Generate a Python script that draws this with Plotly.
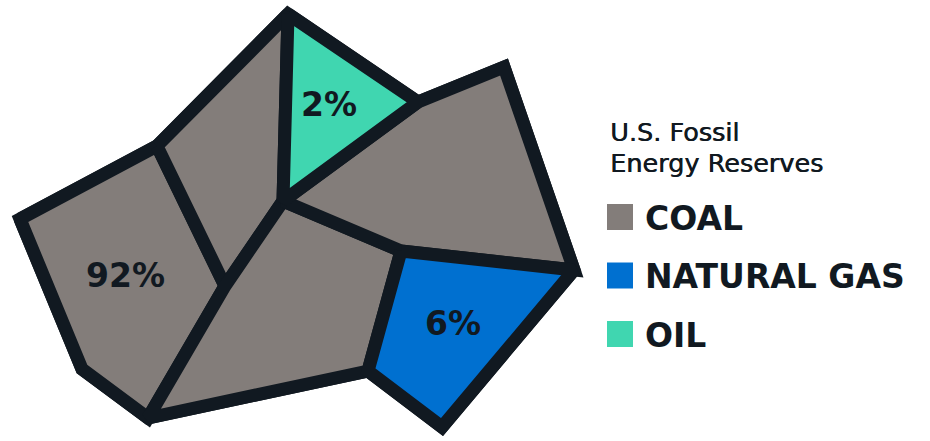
import math
import plotly.graph_objects as go

# Categories and values
categories = ["COAL", "NATURAL GAS", "OIL"]
shares = [92, 6, 2]
colors = ["#837d7a", "#0070d0", "#40d6b0"]
outline = "#111921"
title_lines = ["U.S. Fossil", "Energy Reserves"]

# Voronoi-style cells (vertex coordinates of stylized layout), category of each cell
cell_category = ["COAL", "COAL", "COAL", "COAL", "NATURAL GAS", "OIL"]
cell_x = [
    [20, 157, 225, 148, 82],
    [157, 288, 283, 225],
    [283, 401, 368, 148, 225],
    [418, 504, 574, 401, 283],
    [401, 574, 442, 368],
    [288, 418, 283],
]
cell_y = [
    [219, 146, 286, 418, 369],
    [146, 14, 201, 286],
    [201, 251, 371, 418, 286],
    [102, 67, 270, 251, 201],
    [251, 270, 427, 371],
    [14, 102, 201],
]
# which cell carries the share label for each category
label_cell = {"COAL": 0, "NATURAL GAS": 4, "OIL": 5}

STROKE = 13

# ---- outer boundary of the mosaic (edges used by only one cell) ----
edge_count = {}
edge_dir = {}
for cx, cy in zip(cell_x, cell_y):
    pts = list(zip(cx, cy))
    for i in range(len(pts)):
        a, b = pts[i], pts[(i + 1) % len(pts)]
        key = frozenset((a, b))
        edge_count[key] = edge_count.get(key, 0) + 1
        edge_dir[key] = (a, b)
boundary = [edge_dir[k] for k, c in edge_count.items() if c == 1]
nxt = {a: b for a, b in boundary}
start = boundary[0][0]
ring = [start]
cur = nxt[start]
while cur != start:
    ring.append(cur)
    cur = nxt[cur]

area2 = sum(ring[i][0] * ring[(i + 1) % len(ring)][1] - ring[(i + 1) % len(ring)][0] * ring[i][1]
            for i in range(len(ring)))
sgn = 1 if area2 > 0 else -1


def offset_ring(pts, d):
    n = len(pts)
    lines = []
    for i in range(n):
        (x0, y0), (x1, y1) = pts[i], pts[(i + 1) % n]
        dx, dy = x1 - x0, y1 - y0
        L = math.hypot(dx, dy)
        nx, ny = dy / L * sgn, -dx / L * sgn  # outward normal
        lines.append(((x0 + nx * d, y0 + ny * d), (dx, dy)))
    out = []
    for i in range(n):
        (p, r) = lines[i - 1]
        (q, s) = lines[i]
        den = r[0] * s[1] - r[1] * s[0]
        t = ((q[0] - p[0]) * s[1] - (q[1] - p[1]) * s[0]) / den
        out.append((p[0] + t * r[0], p[1] + t * r[1]))
    return out


outer = offset_ring(ring, STROKE / 2)

fig = go.Figure()
fig.add_trace(go.Scatter(
    x=[p[0] for p in outer] + [outer[0][0]], y=[p[1] for p in outer] + [outer[0][1]],
    mode="lines", fill="toself", fillcolor=outline, line=dict(color=outline, width=0),
    hoverinfo="skip", showlegend=False))
for cx, cy, cat in zip(cell_x, cell_y, cell_category):
    col = colors[categories.index(cat)]
    fig.add_trace(go.Scatter(
        x=cx + [cx[0]], y=cy + [cy[0]], mode="lines", fill="toself",
        fillcolor=col, line=dict(color=outline, width=STROKE),
        hoverinfo="skip", showlegend=False))


def centroid(xs, ys):
    a = cxs = cys = 0.0
    n = len(xs)
    for i in range(n):
        x0, y0 = xs[i], ys[i]
        x1, y1 = xs[(i + 1) % n], ys[(i + 1) % n]
        c = x0 * y1 - x1 * y0
        a += c
        cxs += (x0 + x1) * c
        cys += (y0 + y1) * c
    a *= 0.5
    return cxs / (6 * a), cys / (6 * a)


annotations = []
for cat, val in zip(categories, shares):
    i = label_cell[cat]
    lx, ly = centroid(cell_x[i], cell_y[i])
    annotations.append(dict(x=lx - 1, y=ly - 1, xref="x", yref="y", text=f"{val}%",
                            showarrow=False,
                            font=dict(family="DejaVu Sans", size=33, color=outline, weight=700)))

# Legend title
for k, t in enumerate(title_lines):
    annotations.append(dict(x=608, y=132 + 31 * k, xref="x", yref="y", text=t,
                            xanchor="left", yanchor="middle", showarrow=False,
                            font=dict(family="DejaVu Sans", size=25.5, color=outline,
                                      shadow="0.6px 0 0 #111921")))

shapes = []
for k, (cat, col) in enumerate(zip(categories, colors)):
    yc = 217 + 58.5 * k
    shapes.append(dict(type="rect", xref="x", yref="y", x0=607, x1=633,
                       y0=yc - 13, y1=yc + 13, fillcolor=col, line=dict(width=0)))
    annotations.append(dict(x=643, y=yc + 1, xref="x", yref="y", text=cat,
                            xanchor="left", yanchor="middle", showarrow=False,
                            font=dict(family="DejaVu Sans", size=33, color=outline, weight=700)))

fig.update_layout(
    width=930, height=441, margin=dict(l=0, r=0, t=0, b=0),
    paper_bgcolor="white", plot_bgcolor="white",
    xaxis=dict(range=[0, 930], visible=False, fixedrange=True),
    yaxis=dict(range=[441, 0], visible=False, fixedrange=True),
    annotations=annotations, shapes=shapes, showlegend=False,
)
fig.write_html("out.html")
